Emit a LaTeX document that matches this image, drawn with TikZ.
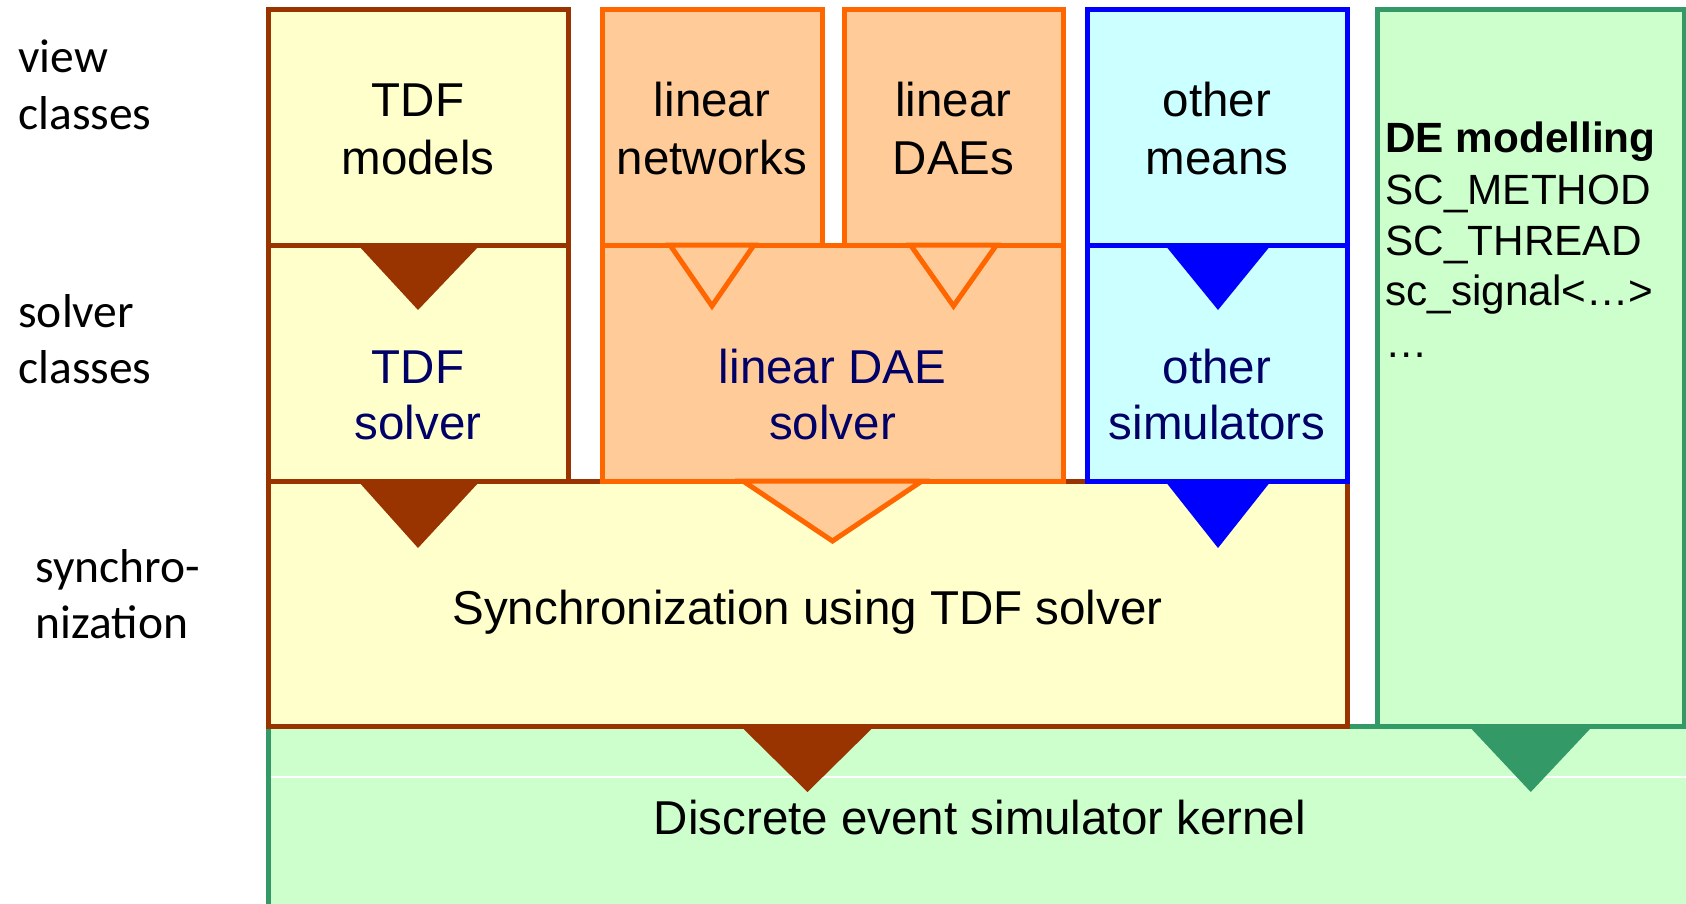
\documentclass[tikz,border=0pt]{standalone}
\usepackage{fontspec}
\setmainfont{Liberation Sans}
\newfontfamily\carlitofont{Carlito}
\usetikzlibrary{calc}
\definecolor{brn}{HTML}{993300}
\definecolor{ylw}{HTML}{FFFFCC}
\definecolor{org}{HTML}{FF6600}
\definecolor{pch}{HTML}{FFCC99}
\definecolor{blu}{HTML}{0000FF}
\definecolor{cyn}{HTML}{CCFFFF}
\definecolor{grn}{HTML}{339966}
\definecolor{lgr}{HTML}{CCFFCC}
\definecolor{nvy}{HTML}{000066}
\begin{document}
\begin{tikzpicture}[x=0.5pt,y=-0.5pt,
  box/.style={draw, line width=2.5pt, rectangle, inner sep=0pt, outer sep=0pt},
  tdfbox/.style={box, draw=brn, fill=ylw},
  orgbox/.style={box, draw=org, fill=pch},
  blubox/.style={box, draw=blu, fill=cyn},
  grnbox/.style={box, draw=grn, fill=lgr},
  txt/.style={anchor=base, inner sep=0pt, font=\fontsize{23.75}{28}\selectfont},
  soltxt/.style={txt, text=nvy},
  lbl/.style={anchor=base west, inner sep=0pt, font=\carlitofont\fontsize{23.75}{28}\selectfont},
  detxt/.style={anchor=base west, inner sep=0pt, font=\fontsize{21.15}{25}\selectfont},
  otri/.style={draw=org, fill=pch, line width=2.5pt, line join=miter},
]
\useasboundingbox (0,0) rectangle (1686,904);
\clip (0,0) rectangle (1686,904);

% bottom layer: kernel and DE
\node[grnbox, minimum width=712pt, minimum height=90pt] (kern) at (980,816) {};
\draw[white, line width=0.6pt] (270.5,777) -- (1686,777);
\node[grnbox, minimum width=153.25pt, minimum height=358pt] (de) at (1530.75,368) {};
\node[tdfbox, minimum width=539.5pt, minimum height=122.5pt] (sync) at (807.5,603.5) {};

% solver boxes
\node[tdfbox, minimum width=150pt, minimum height=118pt] (tdfs) at (418,363) {};
\node[orgbox, minimum width=230.5pt, minimum height=118pt] (daes) at (832.5,363) {};
\node[blubox, minimum width=130pt, minimum height=118pt] (oths) at (1217,363) {};

% view boxes
\node[tdfbox, minimum width=150pt, minimum height=117.5pt] (tdfm) at (418,127.5) {};
\node[orgbox, minimum width=110pt, minimum height=117.5pt] (linnet) at (712,127.5) {};
\node[orgbox, minimum width=109.5pt, minimum height=117.5pt] (lindae) at (953.5,127.5) {};
\node[blubox, minimum width=130pt, minimum height=117.5pt] (othm) at (1217,127.5) {};

% triangles (connectors)
\fill[brn] ($(tdfm.south)+(-60,0)$) -- ($(tdfm.south)+(62,0)$) -- ($(tdfm.south)+(0,65)$) -- cycle;
\filldraw[otri] ($(linnet.south)+(-42,0)$) -- ($(linnet.south)+(42,0)$) -- ($(linnet.south)+(0,61)$) -- cycle;
\filldraw[otri] ($(lindae.south)+(-43,0)$) -- ($(lindae.south)+(43,0)$) -- ($(lindae.south)+(0,61)$) -- cycle;
\fill[blu] ($(othm.south)+(-52,0)$) -- ($(othm.south)+(54,0)$) -- ($(othm.south)+(1,65)$) -- cycle;
\fill[brn] ($(tdfs.south)+(-60,0)$) -- ($(tdfs.south)+(62,0)$) -- ($(tdfs.south)+(0,67)$) -- cycle;
\filldraw[otri] ($(daes.south)+(-89.5,0)$) -- ($(daes.south)+(89.5,0)$) -- ($(daes.south)+(0,60)$) -- cycle;
\fill[blu] ($(oths.south)+(-52,0)$) -- ($(oths.south)+(54,0)$) -- ($(oths.south)+(1,67)$) -- cycle;
\fill[brn] ($(sync.south)+(-67,0)$) -- ($(sync.south)+(67,0)$) -- ($(sync.south)+(0,66)$) -- cycle;
\fill[grn] ($(de.south)+(-62,0)$) -- ($(de.south)+(62,0)$) -- ($(de.south)+(0,66)$) -- cycle;

% box texts
\node[txt] (tdfma) at (418,117) {TDF};
\node[txt] (tdfmb) at (418,174) {models};
\node[txt] (linneta) at (712,117) {linear};
\node[txt] (linnetb) at (712,174) {networks};
\node[txt] (lindaea) at (953.5,117) {linear};
\node[txt] (lindaeb) at (953.5,174) {DAEs};
\node[txt] (othma) at (1217,117) {other};
\node[txt] (othmb) at (1217,174) {means};
\node[soltxt] (tdfsa) at (418,383) {TDF};
\node[soltxt] (tdfsb) at (418,439) {solver};
\node[soltxt] (daesa) at (832.5,383) {linear DAE};
\node[soltxt] (daesb) at (832.5,439) {solver};
\node[soltxt] (othsa) at (1217,383) {other};
\node[soltxt] (othsb) at (1217,439) {simulators};
\node[txt] (synct) at (807.5,624) {Synchronization using TDF solver};
\node[txt] (kernt) at (980,834) {Discrete event simulator kernel};

% DE modelling text
\node[detxt, font=\bfseries\fontsize{21.15}{25}\selectfont] (de1) at (1385,153) {DE modelling};
\node[detxt] (de2) at (1385,204) {SC\_METHOD};
\node[detxt] (de3) at (1385,255) {SC\_THREAD};
\node[detxt] (de4) at (1385,305) {sc\_signal<…>};
\node[detxt] (de5) at (1385,357) {…};

% left labels
\node[lbl] (l1) at (18,73) {view};
\node[lbl] (l2) at (18,130) {classes};
\node[lbl] (l3) at (18,327) {solver};
\node[lbl] (l4) at (18,383) {classes};
\node[lbl] (l5) at (35,582) {synchro-};
\node[lbl] (l6) at (35,638) {nization};
\end{tikzpicture}
\end{document}
